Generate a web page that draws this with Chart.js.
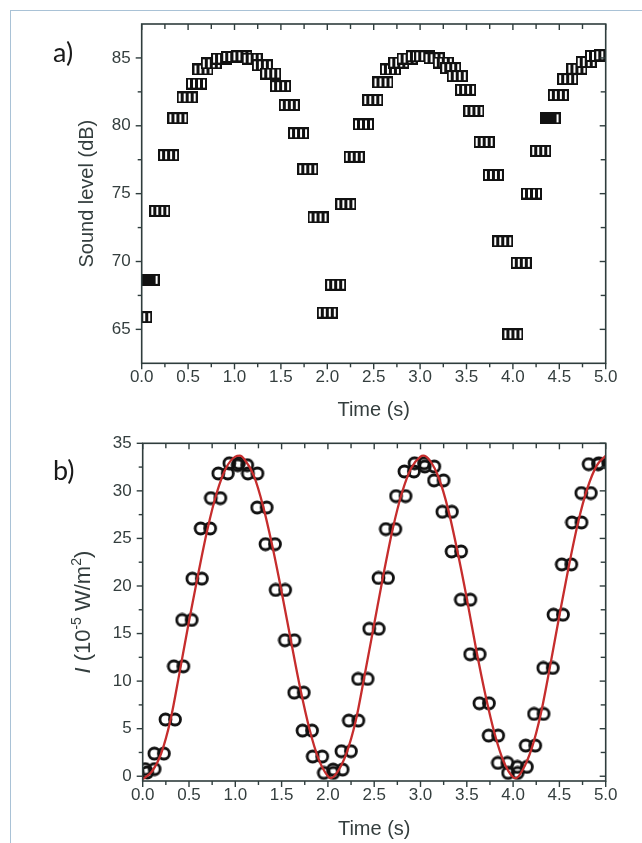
<!DOCTYPE html>
<html><head><meta charset="utf-8">
<script src="https://cdn.jsdelivr.net/npm/chart.js@4.4.1/dist/chart.umd.min.js"></script>
<style>
html,body{margin:0;padding:0;background:#fff;}
#wrap{position:relative;width:642px;height:843px;overflow:hidden;background:#fff;}
#frame{position:absolute;left:10px;top:10px;width:640px;height:840px;border-top:1.5px solid #a9c2d6;border-left:1.5px solid #a9c2d6;}
canvas{position:absolute;left:0;}
#ca{top:0}
#cb{top:420px}
</style></head>
<body><div id="wrap"><div id="frame"></div><canvas id="ca" width="642" height="420"></canvas><canvas id="cb" width="642" height="423"></canvas></div>
<script>
// ---- Panel a: sound level (dB) vs time (s)
const timeA = [0.00,0.08,0.195,0.29,0.39,0.49,0.59,0.66,0.75,0.86,0.97,1.08,1.19,1.30,1.39,1.497,1.59,1.69,1.79,1.90,
  2.00,2.09,2.20,2.29,2.39,2.49,2.60,2.68,2.77,2.86,2.96,3.05,3.15,3.25,3.33,3.40,3.49,3.58,3.69,3.79,3.89,
  4.00,4.09,4.20,4.30,4.40,4.49,4.59,4.69,4.79,4.89,4.99];
const levelA = [65.9,68.65,73.73,77.83,80.56,82.09,83.11,84.15,84.6,84.95,85.07,85.12,84.95,84.46,83.85,82.92,81.53,79.45,76.8,73.25,
  66.23,68.29,74.23,77.71,80.1,81.9,83.2,84.15,84.65,84.95,85.12,85.12,84.98,84.66,84.25,83.66,82.65,81.09,78.81,76.37,71.49,
  64.64,69.9,75.01,78.15,80.55,82.26,83.44,84.2,84.7,85.15,85.2];
const solidIdxA = [1,45];

// ---- Panel b: intensity (1e-5 W/m^2) vs time (s)
const timeB = [0.00,0.08,0.18,0.30,0.39,0.48,0.59,0.68,0.79,0.87,0.99,1.08,1.19,1.29,1.38,1.49,1.59,1.69,1.78,1.89,
  2.01,2.11,2.20,2.28,2.38,2.50,2.60,2.68,2.79,2.88,2.99,3.10,3.20,3.29,3.39,3.49,3.59,3.69,3.79,3.89,
  4.00,4.10,4.19,4.28,4.38,4.49,4.58,4.69,4.79,4.87,4.98];
const intensityB = [0.4,0.75,2.38,5.96,11.55,16.43,20.77,26.05,29.24,31.83,32.9,32.7,31.83,28.25,24.4,19.58,14.29,8.79,4.8,2.07,
  0.35,0.7,2.63,5.85,10.23,15.5,20.84,25.98,29.45,32.04,32.9,32.56,31.1,27.8,23.63,18.56,12.82,7.67,4.27,1.4,
  0.35,0.98,3.22,6.55,11.38,16.98,22.27,26.68,29.77,32.81,32.9];

// ---- Fit curve (red)
const fitTime = [0.00,0.10,0.20,0.30,0.40,0.50,0.60,0.70,0.80,0.90,1.00,1.05,1.10,1.20,1.30,1.40,1.50,1.60,1.70,1.80,1.90,
  2.00,2.03,2.10,2.20,2.30,2.40,2.50,2.60,2.70,2.80,2.90,3.00,3.03,3.10,3.20,3.30,3.40,3.50,3.60,3.70,3.80,3.90,
  4.00,4.03,4.10,4.20,4.30,4.40,4.50,4.60,4.70,4.80,4.90,5.00];
const fitIntensity = [-0.3,0.5,2.4,5.9,11.0,16.3,21.3,26.0,29.8,32.4,33.6,33.7,33.3,31.6,28.4,24.2,19.4,14.3,9.3,5.0,1.8,
  0.0,-0.2,0.4,2.4,5.8,10.8,16.0,21.2,26.0,29.8,32.4,33.6,33.7,33.2,31.3,28.0,23.6,18.7,13.4,8.6,4.5,1.5,
  -0.1,-0.2,0.6,2.9,6.6,11.6,16.9,22.0,26.6,30.2,32.6,33.7];

// ---- Ticks
const xMajor = [0,0.5,1,1.5,2,2.5,3,3.5,4,4.5,5];
const xTickLabels = ['0.0','0.5','1.0','1.5','2.0','2.5','3.0','3.5','4.0','4.5','5.0'];
const xMinor = [0.25,0.75,1.25,1.75,2.25,2.75,3.25,3.75,4.25,4.75];
const yMajorA = [65,70,75,80,85];
const yMinorA = [67.5,72.5,77.5,82.5];
const yMajorB = [0,5,10,15,20,25,30,35];
const yMinorB = [2.5,7.5,12.5,17.5,22.5,27.5,32.5];

const AX = '#2f3d3d';
const TXT = '#343e3e';
const FONT = '"Liberation Sans", Arial, sans-serif';

function stripedMarker(solid){
  const c=document.createElement('canvas'); c.width=21; c.height=12;
  const g=c.getContext('2d');
  g.fillStyle='#111'; g.fillRect(0,0,21,12);
  g.fillStyle='#fff';
  const wins = solid ? [17] : [2,7,12,17];
  wins.forEach(x=>g.fillRect(x,2,2,8));
  return c;
}
function circleMarker(){
  const c=document.createElement('canvas'); c.width=25; c.height=15;
  const g=c.getContext('2d'); g.strokeStyle='#111'; g.lineWidth=2.8;
  [7.5,17].forEach(cx=>{g.beginPath(); g.arc(cx,7.5,5.5,0,Math.PI*2); g.stroke();});
  return c;
}
const mStriped = stripedMarker(false), mSolid = stripedMarker(true), mCircle = circleMarker();

const framePlugin = {
  id:'frame',
  afterDraw(chart, args, o){
    const {ctx, chartArea:ca, scales:{x,y}} = chart;
    ctx.save();
    ctx.strokeStyle=AX; ctx.lineWidth=1.6;
    ctx.strokeRect(ca.left, ca.top, ca.right-ca.left, ca.bottom-ca.top);
    const line=(x1,y1,x2,y2)=>{ctx.beginPath();ctx.moveTo(x1,y1);ctx.lineTo(x2,y2);ctx.stroke();};
    ctx.lineWidth=1.4;
    xMajor.forEach(v=>{const p=x.getPixelForValue(v); line(p,ca.bottom,p,ca.bottom+6); line(p,ca.top,p,ca.top+6);});
    xMinor.forEach(v=>{const p=x.getPixelForValue(v); line(p,ca.bottom,p,ca.bottom+4); line(p,ca.top,p,ca.top+5);});
    o.yMajor.forEach(v=>{const p=y.getPixelForValue(v); line(ca.left-6,p,ca.left,p); line(ca.right-6,p,ca.right,p);});
    o.yMinor.forEach(v=>{const p=y.getPixelForValue(v); line(ca.left-4,p,ca.left,p); line(ca.right-5,p,ca.right,p);});
    // x title
    ctx.fillStyle=TXT; ctx.font='20px '+FONT; ctx.textAlign='center'; ctx.textBaseline='middle';
    ctx.fillText('Time (s)', (ca.left+ca.right)/2, ca.bottom+o.xTitleOff);
    // y title
    ctx.save();
    ctx.translate(o.yTitleX, (ca.top+ca.bottom)/2);
    ctx.rotate(-Math.PI/2);
    if (o.rich){
      const big=22, small=14;
      const parts=[
        {t:'I', f:'italic '+big+'px '+FONT, dy:0},
        {t:' (10', f:big+'px '+FONT, dy:0},
        {t:'-5', f:small+'px '+FONT, dy:-9},
        {t:' W/m', f:big+'px '+FONT, dy:0},
        {t:'2', f:small+'px '+FONT, dy:-9},
        {t:')', f:big+'px '+FONT, dy:0}
      ];
      let w=0; parts.forEach(p=>{ctx.font=p.f; p.w=ctx.measureText(p.t).width; w+=p.w;});
      let cx=-w/2; ctx.textAlign='left'; ctx.textBaseline='alphabetic';
      parts.forEach(p=>{ctx.font=p.f; ctx.fillText(p.t,cx,8+p.dy); cx+=p.w;});
    } else {
      ctx.fillText(o.yTitle,0,0);
    }
    ctx.restore();
    // panel letter
    ctx.fillStyle='#1a1a1a'; ctx.font='27px Lato, "Open Sans", sans-serif';
    ctx.textAlign='left'; ctx.textBaseline='alphabetic';
    ctx.fillText(o.letter, 53, o.letterY);
    ctx.restore();
  }
};

function xScale(h){
  return {type:'linear', min:0, max:5,
    grid:{display:false, drawTicks:false}, border:{display:false},
    afterBuildTicks:s=>{s.ticks=xMajor.map(v=>({value:v}));},
    afterFit:s=>{s.height=h;},
    ticks:{padding:4, maxRotation:0, autoSkip:false, color:TXT, font:{family:FONT,size:17},
      callback:(v,i)=>xTickLabels[i]}};
}
function yScale(min,max,ticks,w){
  return {type:'linear', min, max,
    grid:{display:false, drawTicks:false}, border:{display:false},
    afterBuildTicks:s=>{s.ticks=ticks.map(v=>({value:v}));},
    afterFit:s=>{s.width=w;},
    ticks:{padding:11, color:TXT, font:{family:FONT,size:17}, callback:v=>String(v)}};
}

new Chart(document.getElementById('ca'), {
  type:'scatter',
  data:{datasets:[{
    data: timeA.map((t,i)=>({x:t,y:levelA[i]})),
    pointStyle: c=> solidIdxA.includes(c.dataIndex) ? mSolid : mStriped,
    pointRadius:6, clip:0
  }]},
  options:{responsive:false, animation:false, devicePixelRatio:1,
    layout:{padding:{top:24,right:36.3,bottom:0,left:0}},
    plugins:{legend:{display:false}, tooltip:{enabled:false},
      frame:{yMajor:yMajorA, yMinor:yMinorA, yTitle:'Sound level (dB)', yTitleX:87, xTitleOff:47, letter:'a)', letterY:62}},
    scales:{x:xScale(56.7), y:yScale(62.5,87.5,yMajorA,141.7)}},
  plugins:[framePlugin]
});

new Chart(document.getElementById('cb'), {
  type:'scatter',
  data:{datasets:[
    {type:'line', data: fitTime.map((t,i)=>({x:t,y:fitIntensity[i]})), borderColor:'#c62d2d', borderWidth:2.3,
     pointRadius:0, fill:false, cubicInterpolationMode:'monotone', order:0, clip:0},
    {data: timeB.map((t,i)=>({x:t,y:intensityB[i]})), pointStyle:mCircle, pointRadius:6, order:1, clip:0}
  ]},
  options:{responsive:false, animation:false, devicePixelRatio:1,
    layout:{padding:{top:23.3,right:36.3,bottom:0,left:0}},
    plugins:{legend:{display:false}, tooltip:{enabled:false},
      frame:{yMajor:yMajorB, yMinor:yMinorB, rich:true, yTitleX:82, xTitleOff:48, letter:'b)', letterY:60}},
    scales:{x:xScale(62), y:yScale(-0.5,35,yMajorB,142.7)}},
  plugins:[framePlugin]
});
</script>
</body></html>
